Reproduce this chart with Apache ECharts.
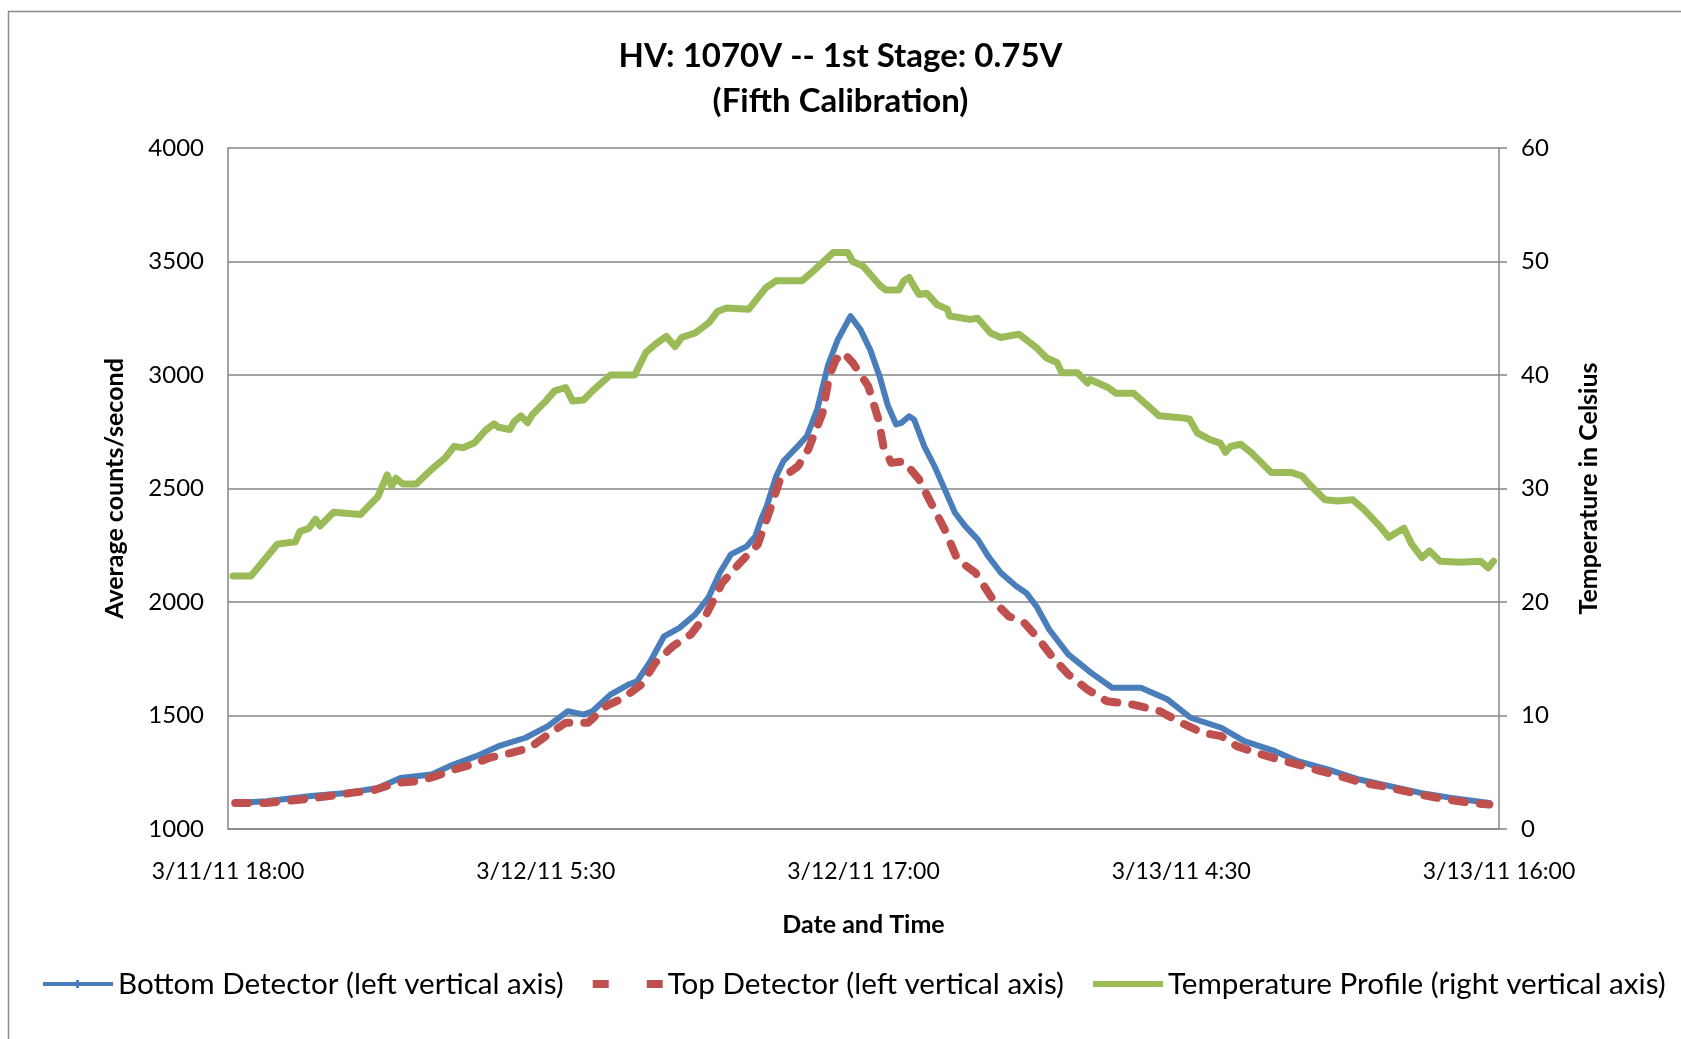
<!DOCTYPE html>
<html>
<head>
<meta charset="utf-8">
<title>HV: 1070V -- 1st Stage: 0.75V (Fifth Calibration)</title>
<script src="https://cdn.jsdelivr.net/npm/echarts@6/dist/echarts.min.js"></script>
<style>
  html, body { margin: 0; padding: 0; background: #fff; }
  #chart { width: 1681px; height: 1039px; }
</style>
</head>
<body>
<div id="chart"></div>
<script>
// time is in hours after 3/11/11 18:00
var xLabels = ['3/11/11 18:00', '3/12/11 5:30', '3/12/11 17:00', '3/13/11 4:30', '3/13/11 16:00'];

var bottomHours = [0.26, 1.39, 3.01, 4.30, 5.43, 6.24, 7.37, 8.02, 8.99, 9.79, 10.77, 11.58, 12.30, 12.87, 13.19,
  13.84, 14.49, 14.81, 15.29, 15.78, 16.34, 16.91, 17.39, 17.80, 18.20, 18.77, 19.09, 19.29, 19.50, 19.84,
  20.10, 20.65, 20.95, 21.33, 21.72, 22.07, 22.53, 22.89, 23.24, 23.58, 23.88, 24.18, 24.37, 24.65, 24.83,
  25.20, 25.57, 25.94, 26.31, 26.68, 27.14, 27.51, 27.97, 28.52, 28.89, 29.26, 29.72, 30.41, 31.24, 32.00,
  33.04, 34.01, 34.84, 35.95, 36.78, 37.89, 38.72, 39.83, 40.94, 42.05, 43.16, 44.27, 45.65];
var bottomCounts = [1115, 1122, 1145, 1159, 1181, 1225, 1240, 1277, 1321, 1365, 1402, 1453, 1519, 1504, 1519,
  1592, 1636, 1651, 1739, 1849, 1886, 1945, 2020, 2129, 2210, 2245, 2290, 2363, 2422, 2554,
  2620, 2690, 2730, 2850, 3045, 3156, 3259, 3200, 3112, 2995, 2866, 2782, 2789, 2818, 2804,
  2686, 2598, 2496, 2393, 2334, 2275, 2202, 2129, 2070, 2040, 1981, 1879, 1769, 1688, 1622,
  1622, 1570, 1490, 1446, 1387, 1343, 1299, 1262, 1218, 1189, 1159, 1137, 1115];

var topHours = [0.26, 1.39, 2.69, 3.66, 4.46, 5.27, 6.08, 6.89, 7.53, 8.18, 8.83, 9.47, 10.28, 10.93, 11.58,
  12.22, 13.03, 13.68, 14.32, 14.97, 15.46, 16.10, 16.75, 17.31, 17.88, 18.53, 19.17, 19.66, 19.98, 20.63,
  21.00, 21.52, 21.76, 22.00, 22.28, 22.61, 23.17, 23.54, 23.72, 24.00, 24.46, 25.01, 25.38, 25.94, 26.40,
  27.05, 27.74, 28.26, 28.82, 29.30, 29.86, 30.41, 31.10, 31.80, 32.76, 33.73, 34.50, 35.26, 35.95, 36.51,
  37.20, 38.03, 38.72, 39.56, 40.24, 41.08, 41.77, 42.60, 43.43, 44.13, 44.96, 45.65];
var topCounts = [1115, 1115, 1130, 1145, 1159, 1171, 1203, 1211, 1233, 1262, 1284, 1314, 1336, 1358, 1416,
  1468, 1468, 1541, 1578, 1637, 1732, 1805, 1857, 1945, 2084, 2173, 2253, 2422, 2540, 2598,
  2672, 2833, 2995, 3068, 3098, 3054, 2951, 2804, 2686, 2613, 2620, 2540, 2451, 2319, 2187,
  2129, 2000, 1937, 1908, 1842, 1754, 1681, 1615, 1563, 1548, 1519, 1468, 1424, 1409, 1365,
  1336, 1306, 1284, 1255, 1233, 1203, 1189, 1167, 1145, 1130, 1115, 1108];

var tempHours = [0.18, 0.83, 1.79, 2.44, 2.60, 2.93, 3.17, 3.33, 3.82, 4.79, 5.43, 5.76, 5.92, 6.08, 6.32,
  6.81, 7.37, 7.86, 8.18, 8.50, 8.91, 9.31, 9.63, 9.79, 10.20, 10.36, 10.60, 10.84, 11.01, 11.50,
  11.82, 12.22, 12.47, 12.87, 13.19, 13.84, 14.72, 15.13, 15.46, 15.86, 16.18, 16.42, 16.91, 17.40, 17.72,
  18.04, 18.85, 19.47, 19.84, 20.77, 21.11, 21.69, 21.91, 22.43, 22.61, 22.98, 23.63, 23.81, 24.28, 24.46,
  24.65, 24.83, 25.01, 25.29, 25.66, 26.03, 26.12, 26.86, 27.13, 27.60, 27.97, 28.62, 28.89, 29.26, 29.63,
  30.00, 30.18, 30.74, 31.11, 31.20, 31.85, 32.13, 32.77, 33.14, 33.70, 34.62, 34.80, 35.08, 35.54, 35.91,
  36.10, 36.28, 36.65, 37.02, 37.39, 37.76, 38.50, 38.87, 39.24, 39.70, 40.16, 40.71, 41.09, 41.64, 42.01,
  42.28, 42.56, 42.84, 43.21, 43.49, 43.86, 44.59, 45.33, 45.61, 45.80];
var tempValues = [22.3, 22.3, 25.1, 25.3, 26.2, 26.5, 27.3, 26.7, 27.9, 27.7, 29.3, 31.2, 30.2, 30.9, 30.4,
  30.4, 31.7, 32.7, 33.7, 33.6, 34.0, 35.1, 35.7, 35.4, 35.2, 35.9, 36.4, 35.8, 36.5, 37.7,
  38.6, 38.9, 37.7, 37.8, 38.6, 40.0, 40.0, 42.0, 42.7, 43.4, 42.5, 43.3, 43.7, 44.6, 45.6,
  45.9, 45.8, 47.7, 48.3, 48.3, 49.0, 50.3, 50.8, 50.8, 50.0, 49.6, 47.8, 47.5, 47.5, 48.3,
  48.6, 47.8, 47.1, 47.2, 46.2, 45.8, 45.2, 44.9, 45.0, 43.7, 43.3, 43.6, 43.1, 42.4, 41.5,
  41.1, 40.2, 40.2, 39.3, 39.6, 38.9, 38.4, 38.4, 37.6, 36.4, 36.2, 36.1, 34.9, 34.3, 34.0,
  33.2, 33.7, 33.9, 33.2, 32.3, 31.4, 31.4, 31.1, 30.1, 29.0, 28.9, 29.0, 28.2, 26.8, 25.7,
  26.1, 26.5, 25.1, 23.9, 24.5, 23.6, 23.5, 23.6, 23.0, 23.6];

function pairs(xs, ys) {
  var out = [];
  for (var i = 0; i < xs.length; i++) {
    out.push([xs[i], ys[i]]);
  }
  return out;
}

var font = 'Lato, "Open Sans", sans-serif';
var gridColor = '#868686';
var nameStyle = {
  fontFamily: font,
  fontWeight: 'bold',
  fontSize: 25,
  color: '#000'
};

var myChart = echarts.init(document.getElementById('chart'));
var option = {
  backgroundColor: '#fff',
  animation: false,
  title: {
    text: 'HV: 1070V -- 1st Stage: 0.75V\n(Fifth Calibration)',
    left: 'center',
    top: 29,
    textStyle: {
      fontFamily: font,
      fontWeight: 'bold',
      fontSize: 33,
      lineHeight: 45,
      color: '#000'
    }
  },
  graphic: [
    {
      type: 'polyline',
      shape: { points: [[8.5, 1039], [8.5, 11.5], [1681, 11.5]] },
      style: { stroke: '#8c8c8c', lineWidth: 1.5, fill: null }
    }
  ],
  grid: {
    left: 228,
    right: 182,
    top: 148,
    bottom: 210
  },
  legend: {
    top: 964,
    left: 38,
    itemWidth: 70,
    itemHeight: 8,
    itemGap: 29,
    textStyle: {
      fontFamily: font,
      fontSize: 29.6,
      color: '#000'
    },
    data: [
      { name: 'Bottom Detector (left vertical axis)', icon: 'path://M0,2h70v4h-70z M33,0h3v8h-3z' },
      { name: 'Top Detector (left vertical axis)', icon: 'path://M0,0h16v8h-16z M54,0h16v8h-16z' },
      { name: 'Temperature Profile (right vertical axis)', icon: 'path://M0,1h70v6h-70z' }
    ]
  },
  xAxis: {
    type: 'value',
    min: 0,
    max: 46,
    interval: 11.5,
    name: 'Date and Time',
    nameLocation: 'middle',
    nameGap: 83,
    nameTextStyle: nameStyle,
    axisLine: { show: true, lineStyle: { color: gridColor, width: 1.5 } },
    axisTick: { show: false },
    splitLine: { show: false },
    axisLabel: {
      margin: 31,
      fontFamily: font,
      fontSize: 23,
      color: '#000',
      formatter: function (v) {
        return xLabels[Math.round(v / 11.5)];
      }
    }
  },
  yAxis: [
    {
      type: 'value',
      min: 1000,
      max: 4000,
      interval: 500,
      name: 'Average counts/second',
      nameLocation: 'middle',
      nameRotate: 90,
      nameGap: 101,
      nameTextStyle: nameStyle,
      axisLine: { show: true, lineStyle: { color: gridColor, width: 1.5 } },
      axisTick: { show: false },
      splitLine: { show: true, lineStyle: { color: gridColor, width: 1.5 } },
      axisLabel: {
        margin: 24,
        fontFamily: font,
        fontSize: 24,
        color: '#000',
        formatter: function (v) { return String(v); }
      }
    },
    {
      type: 'value',
      min: 0,
      max: 60,
      interval: 10,
      position: 'right',
      name: 'Temperature in Celsius',
      nameLocation: 'middle',
      nameRotate: 90,
      nameGap: 77,
      nameTextStyle: nameStyle,
      axisLine: { show: true, lineStyle: { color: gridColor, width: 1.5 } },
      axisTick: { show: true, length: 8, lineStyle: { color: gridColor, width: 1.5 } },
      splitLine: { show: false },
      axisLabel: {
        margin: 22,
        fontFamily: font,
        fontSize: 24,
        color: '#000'
      }
    }
  ],
  series: [
    {
      name: 'Bottom Detector (left vertical axis)',
      type: 'line',
      yAxisIndex: 0,
      showSymbol: false,
      symbol: 'none',
      color: '#4a7ebb',
      lineStyle: { color: '#4a7ebb', width: 6, cap: 'round', join: 'round' },
      data: pairs(bottomHours, bottomCounts)
    },
    {
      name: 'Top Detector (left vertical axis)',
      type: 'line',
      yAxisIndex: 0,
      showSymbol: false,
      symbol: 'none',
      color: '#c0504d',
      lineStyle: { color: '#c0504d', width: 8, type: [13, 15], cap: 'round', join: 'round' },
      data: pairs(topHours, topCounts)
    },
    {
      name: 'Temperature Profile (right vertical axis)',
      type: 'line',
      yAxisIndex: 1,
      showSymbol: false,
      symbol: 'none',
      color: '#9bbb59',
      lineStyle: { color: '#9bbb59', width: 7, cap: 'round', join: 'round' },
      data: pairs(tempHours, tempValues)
    }
  ]
};
myChart.setOption(option);
</script>
</body>
</html>
